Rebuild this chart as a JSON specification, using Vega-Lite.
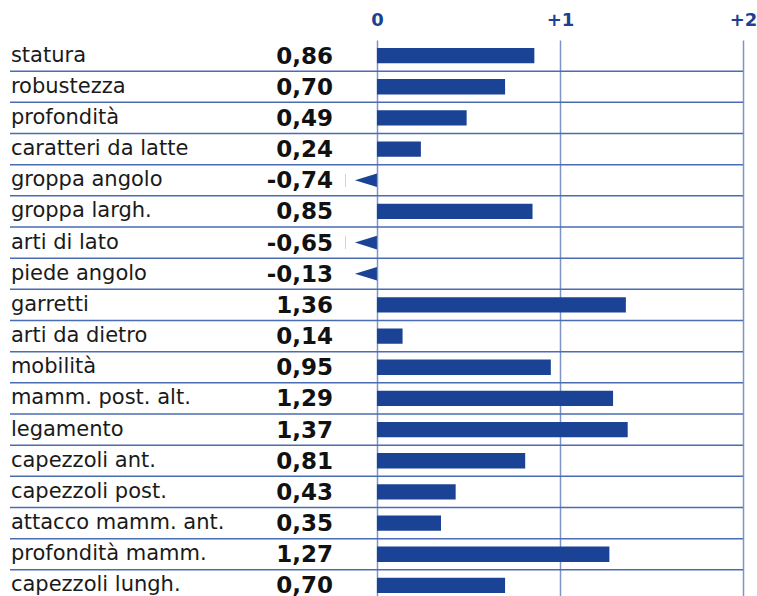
{
  "$schema": "https://vega.github.io/schema/vega-lite/v6.json",
  "autosize": "none",
  "padding": {"left": 10, "top": 33, "right": 14, "bottom": 0},
  "width": 733,
  "height": 563,
  "background": "white",
  "config": {
    "view": {"stroke": null},
    "locale": {"number": {"decimal": ",", "thousands": ".", "grouping": [3], "currency": ["", " €"], "minus": "-"}}
  },
  "data": {
    "values": [
      {"k": "statura", "v": 0.86},
      {"k": "robustezza", "v": 0.70},
      {"k": "profondità", "v": 0.49},
      {"k": "caratteri da latte", "v": 0.24},
      {"k": "groppa angolo", "v": -0.74},
      {"k": "groppa largh.", "v": 0.85},
      {"k": "arti di lato", "v": -0.65},
      {"k": "piede angolo", "v": -0.13},
      {"k": "garretti", "v": 1.36},
      {"k": "arti da dietro", "v": 0.14},
      {"k": "mobilità", "v": 0.95},
      {"k": "mamm. post. alt.", "v": 1.29},
      {"k": "legamento", "v": 1.37},
      {"k": "capezzoli ant.", "v": 0.81},
      {"k": "capezzoli post.", "v": 0.43},
      {"k": "attacco mamm. ant.", "v": 0.35},
      {"k": "profondità mamm.", "v": 1.27},
      {"k": "capezzoli lungh.", "v": 0.70}
    ]
  },
  "encoding": {
    "y": {"field": "k", "type": "nominal", "axis": null,
          "scale": {"domain": ["statura", "robustezza", "profondità", "caratteri da latte", "groppa angolo", "groppa largh.", "arti di lato", "piede angolo", "garretti", "arti da dietro", "mobilità", "mamm. post. alt.", "legamento", "capezzoli ant.", "capezzoli post.", "attacco mamm. ant.", "profondità mamm.", "capezzoli lungh."],
                    "range": [7, 568], "paddingInner": 0, "paddingOuter": 0}}
  },
  "layer": [
    {
      "transform": [{"filter": "datum.v > 0"}],
      "mark": {"type": "bar", "color": "#1a4395", "height": {"band": 0.49}},
      "encoding": {
        "x": {"field": "v", "type": "quantitative",
              "scale": {"domain": [-2.005, 2], "nice": false, "zero": false},
              "axis": {"orient": "top", "values": [0, 1, 2], "title": null, "domain": false, "ticks": false,
                       "grid": true, "gridColor": "#7d94c7", "gridWidth": 1.5,
                       "labelExpr": "datum.value > 0 ? '+' + datum.value : '' + datum.value",
                       "labelFont": "DejaVu Sans", "labelFontWeight": "bold", "labelFontSize": 18,
                       "labelColor": "#1c4191", "labelPadding": 4, "labelFlush": false}},
        "x2": {"datum": 0}
      }
    },
    {
      "mark": {"type": "rule", "color": "#4a6cb3", "strokeWidth": 1.5},
      "encoding": {
        "y": {"field": "k", "type": "nominal", "bandPosition": 1},
        "x": {"datum": -2.005, "type": "quantitative"},
        "x2": {"datum": 2}
      }
    },
    {
      "transform": [{"filter": "datum.v < 0"}],
      "mark": {"type": "point", "filled": true, "color": "#1a4395", "opacity": 1,
               "shape": "M 0 -0.62 L -2 0 L 0 0.62 Z", "size": 484, "strokeWidth": 0},
      "encoding": {
        "x": {"datum": 0, "type": "quantitative"}
      }
    },
    {
      "transform": [{"filter": "datum.v < -0.5"}],
      "mark": {"type": "tick", "orient": "vertical", "color": "#aebde0", "thickness": 1, "size": 13},
      "encoding": {
        "x": {"datum": -0.172, "type": "quantitative"}
      }
    },
    {
      "mark": {"type": "text", "align": "left", "baseline": "middle", "font": "DejaVu Sans", "fontSize": 21, "color": "#1a1a1a"},
      "encoding": {
        "x": {"datum": -2.0, "type": "quantitative"},
        "text": {"field": "k"}
      }
    },
    {
      "mark": {"type": "text", "align": "right", "baseline": "middle", "font": "DejaVu Sans", "fontWeight": "bold", "fontSize": 23, "color": "#111111", "dy": 1},
      "encoding": {
        "x": {"datum": -0.24, "type": "quantitative"},
        "text": {"field": "v", "format": ".2f"}
      }
    }
  ]
}
